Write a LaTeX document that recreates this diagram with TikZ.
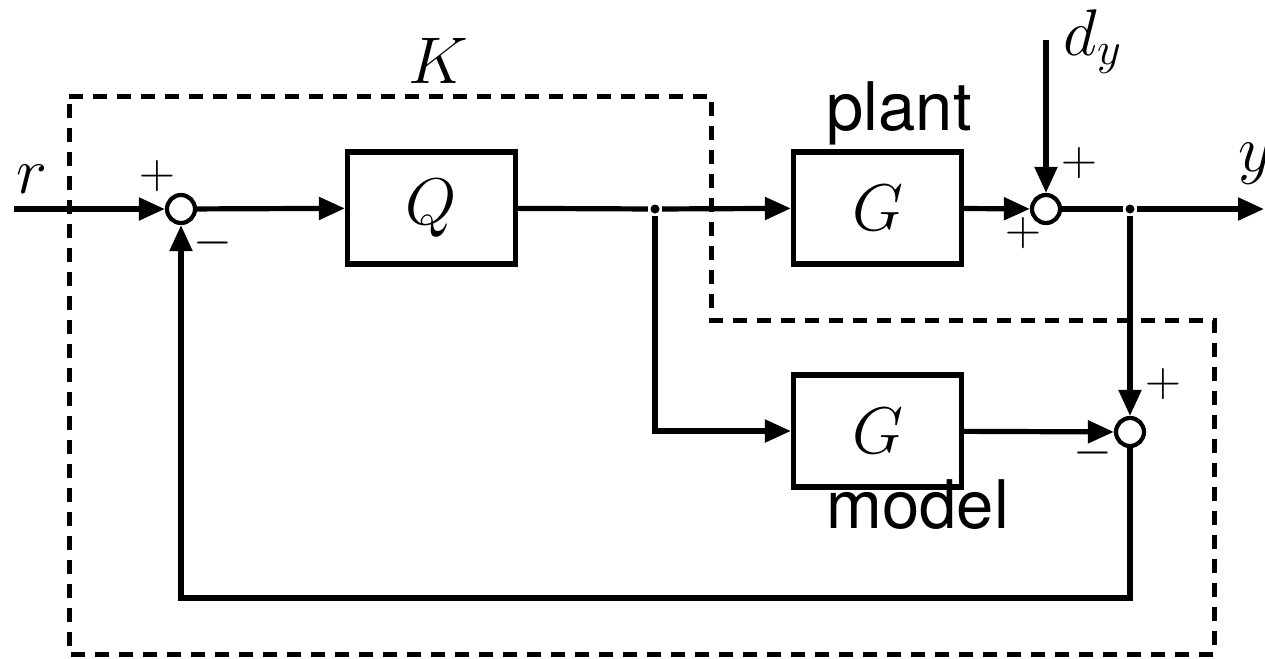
\documentclass[tikz,border=0pt]{standalone}
\usepackage{fontspec}
\setsansfont{TeX Gyre Heros}
\usetikzlibrary{arrows.meta}
% scalable math fonts for the large labels
\DeclareFontFamily{OML}{cmmx}{\skewchar\font'177}
\DeclareFontShape{OML}{cmmx}{m}{it}{<-9>cmmi8 <9-11>cmmi10 <11->cmmi12}{}
\DeclareSymbolFont{letters}{OML}{cmmx}{m}{it}
\DeclareFontFamily{OMS}{cmsx}{\skewchar\font'60}
\DeclareFontShape{OMS}{cmsx}{m}{n}{<-9>cmsy8 <9->cmsy10}{}
\DeclareSymbolFont{symbols}{OMS}{cmsx}{m}{n}
\tikzset{
	diagram/.style={x=0.5pt, y=-0.5pt, line width=2.6pt,
	                >={Triangle[length=13pt,width=11pt]}},
	blok/.style={draw, minimum width=84pt, minimum height=56pt, inner sep=0pt,
	             font=\fontsize{33}{38}\selectfont},
	vsota/.style={draw, circle, line width=2.1pt, minimum size=14pt, inner sep=0pt},
	tok/.style={->},
	znak/.style={font=\fontsize{25}{29}\selectfont, inner sep=0pt},
	oznaka/.style={font=\fontsize{33}{38}\selectfont, inner sep=0pt, anchor=base west},
	ime/.style={font=\sffamily\fontsize{33.5}{38}\selectfont, inner sep=0pt, anchor=base west},
	okvir/.style={line width=2.5pt, dash pattern=on 7pt off 5pt},
	tocka/.style={circle, fill, inner sep=0pt, minimum size=4.5pt},
}

\begin{document}
\begin{tikzpicture}[diagram]
\useasboundingbox (0,0) rectangle (1265,659);

% ---------- komponente ----------
\node[vsota] (s1) at (181,209) {};
\node[blok] (q) at (431.5,208) {$Q$};
\node[tocka] (t1) at (655,209) {};
\node[blok] (g1) at (877.5,208) {$G$};
\node[vsota] (s2) at (1046,209) {};
\node[tocka] (t2) at (1130,209) {};
\node[blok] (g2) at (877.5,431) {$G$};
\node[vsota] (s3) at (1130,432) {};

\coordinate (vhod) at (14,209);
\coordinate (izhod) at (1264,209);
\coordinate (motnja) at (1046,40);
\coordinate (povr) at (181,598);

% ---------- povezave ----------
\draw[tok] (vhod) -- (s1);
\draw[tok] (s1) -- (q);
\draw (q) -- (t1);
\draw[tok] (t1) -- (g1);
\draw[tok] (g1) -- (s2);
\draw[tok] (motnja) -- (s2);
\draw (s2) -- (t2);
\draw[tok] (t2) -- (izhod);
\draw[tok] (t2) -- (s3);
\draw[tok] (t1) |- (g2);
\draw[tok] (g2) -- (s3);
\draw[tok] (s3) |- (povr) -- (s1);

% ---------- oznake ----------
\node[oznaka] (lr) at (14,193) {$r$};
\node[oznaka] (ldy) at (1061,55) {$d_y$};
\node[oznaka] (ly) at (1236,171) {$y$};
\node[oznaka] (lk) at (406,83) {$K$};
\node[ime] (lplant) at (824,130) {plant};
\node[ime] (lmodel) at (824,528) {model};

\node[znak] at (157,176) {$+$};
\node[znak] at (213,243) {$-$};
\node[znak] at (1079,163) {$+$};
\node[znak] at (1023,233) {$+$};
\node[znak] at (1163,384) {$+$};
\node[znak] at (1093,453) {$-$};

% ---------- regulator K ----------
\draw[okvir] (69,96) -- (711,96) -- (711,320) -- (1214,320) -- (1214,654) -- (69,654) -- cycle;

\end{tikzpicture}
\end{document}
